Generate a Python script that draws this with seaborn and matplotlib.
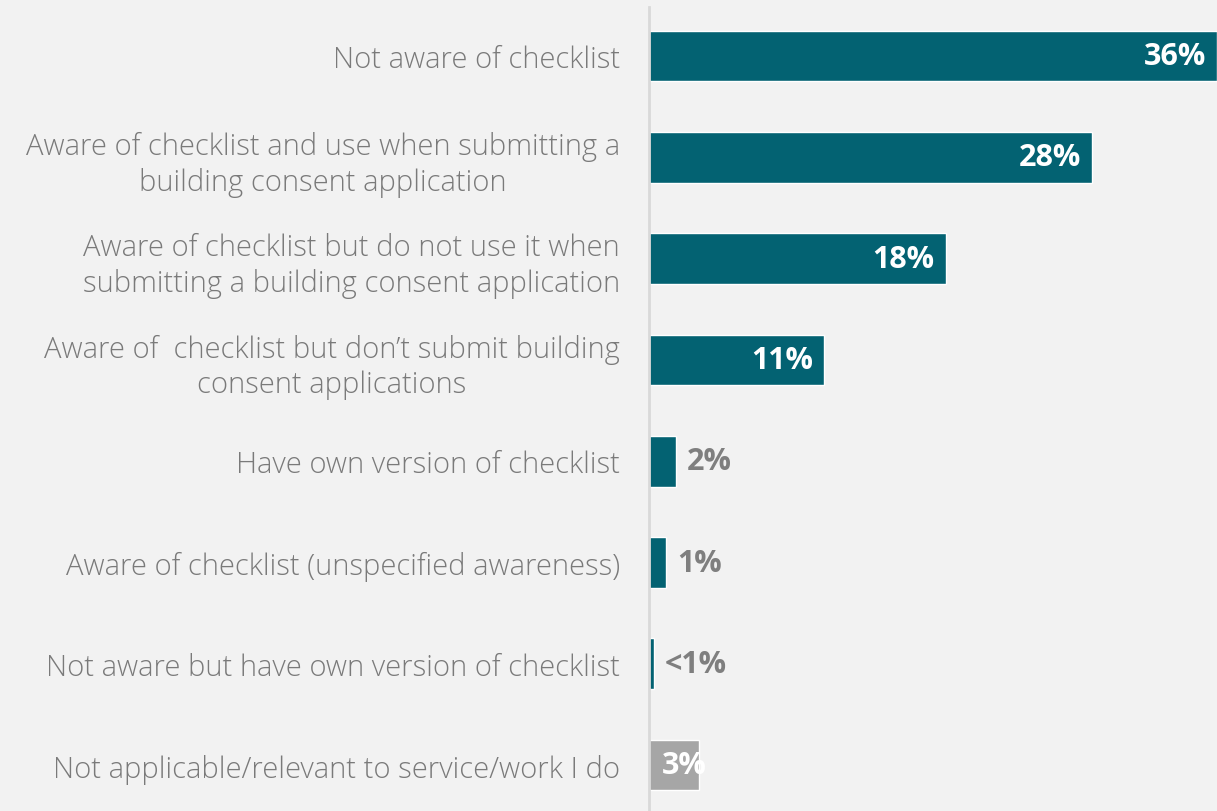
import matplotlib
matplotlib.use('Agg')
import matplotlib.pyplot as plt
import seaborn as sns
import pandas as pd

# data
categories = [
    'Not aware of checklist',
    'Aware of checklist and use when submitting a\nbuilding consent application',
    'Aware of checklist but do not use it when\nsubmitting a building consent application',
    'Aware of  checklist but don\u2019t submit building\nconsent applications',
    'Have own version of checklist',
    'Aware of checklist (unspecified awareness)',
    'Not aware but have own version of checklist',
    'Not applicable/relevant to service/work I do',
]
values = [36, 28.1, 18.8, 11.1, 1.7, 1.1, 0.3, 3.2]
value_labels = ['36%', '28%', '18%', '11%', '2%', '1%', '<1%', '3%']
bar_colors = ['#036272'] * 7 + ['#a6a6a6']

df = pd.DataFrame({'category': categories, 'value': values})

sns.set_theme(style='white')
plt.rcParams['font.family'] = ['Open Sans', 'DejaVu Sans']

bg = '#f2f2f2'
fig = plt.figure(figsize=(12.17, 8.12), dpi=100, facecolor=bg)
ax = fig.add_axes([649 / 1217, 0, 568 / 1217, 1 - 8 / 812])
ax.set_facecolor(bg)

sns.barplot(data=df, x='value', y='category', hue='category',
            palette=bar_colors, legend=False, width=0.5, orient='h',
            saturation=1, ax=ax)

ax.set_xlim(0, 36)
ax.set_ylim(7.453, -0.484)
ax.set_xlabel('')
ax.set_ylabel('')
ax.set_xticks([])

for s in ['top', 'right', 'bottom']:
    ax.spines[s].set_visible(False)
ax.spines['left'].set_color('#d9d9d9')
ax.spines['left'].set_linewidth(2)

ax.tick_params(axis='y', length=0, pad=21)
for lab in ax.get_yticklabels():
    lab.set_fontsize(21)
    lab.set_color('#7a7a7a')
    lab.set_fontweight('light')
    lab.set_multialignment('center')
    lab.set_linespacing(1.27)

# value labels
for i, (v, t) in enumerate(zip(values, value_labels)):
    if v >= 10:
        ax.annotate(t, (v, i), xytext=(-8, 0), textcoords='offset points',
                    ha='right', va='center', color='white',
                    fontsize=22, fontweight='bold')
    elif i == len(values) - 1:
        ax.annotate(t, (0, i), xytext=(9, 0), textcoords='offset points',
                    ha='left', va='center', color='white',
                    fontsize=22, fontweight='bold')
    else:
        ax.annotate(t, (v, i), xytext=(8, 0), textcoords='offset points',
                    ha='left', va='center', color='#7f7f7f',
                    fontsize=22, fontweight='bold')

fig.savefig('out.png', dpi=100, facecolor=bg)
